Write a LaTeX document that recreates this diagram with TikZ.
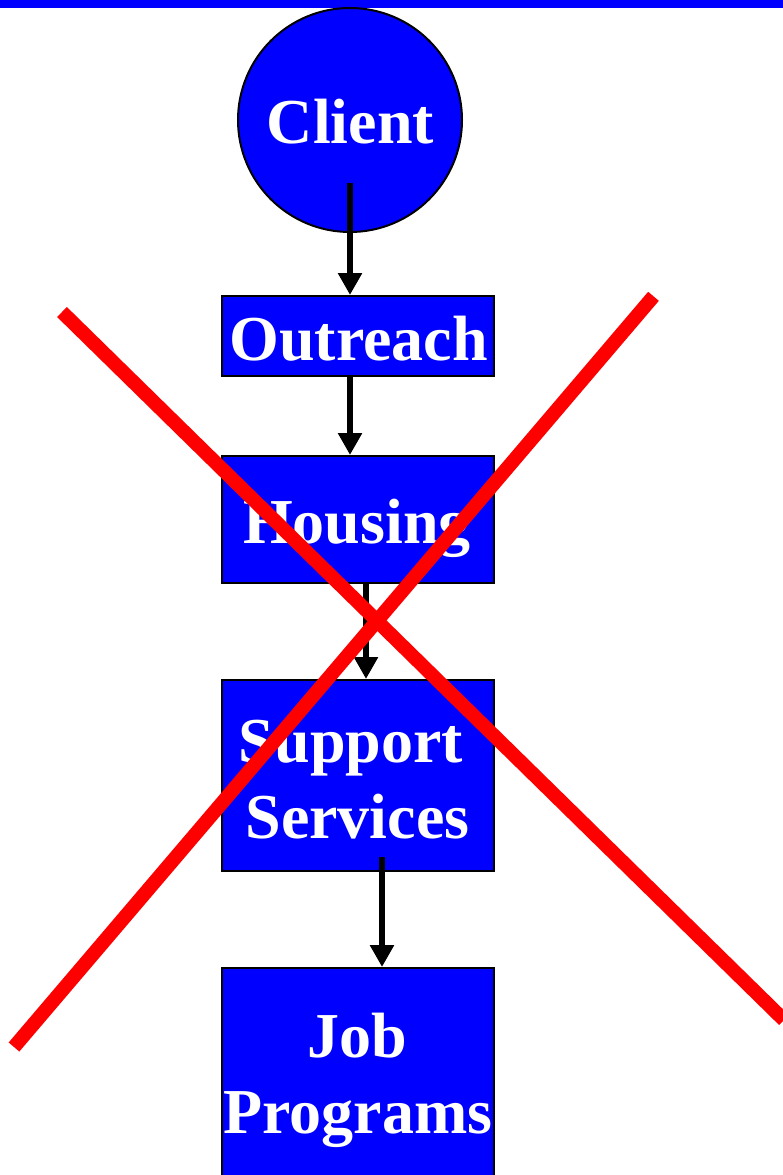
\documentclass[tikz,border=0pt]{standalone}
\usepackage{fontspec}
\setmainfont{Liberation Serif}
\usetikzlibrary{arrows.meta}
\definecolor{boxblue}{RGB}{0,0,255}
\definecolor{crossred}{RGB}{255,0,0}
\begin{document}
\begin{tikzpicture}[x=1pt,y=-1pt,
  stagebox/.style={draw=black,line width=2pt,fill=boxblue,rectangle,
    minimum width=272pt,inner sep=0pt},
  clientdisc/.style={draw=black,line width=2pt,fill=boxblue,circle,
    minimum size=224pt,inner sep=0pt},
  lbl/.style={text=white,anchor=base,inner sep=0pt,
    font=\fontsize{64}{76}\selectfont\bfseries},
  flow/.style={line width=6.5pt,draw=black,-{Triangle[width=23pt,length=22pt]}},
  cross/.style={line width=14pt,draw=crossred}]
\useasboundingbox (0,0) rectangle (783,1175);

% top rule
\fill[boxblue] (0,0) rectangle (783,7.5);

% stages
\node[clientdisc] (client) at (350,120) {};
\node[stagebox,minimum height=80pt]  (outreach) at (358,336) {};
\node[stagebox,minimum height=127pt] (housing)  at (358,519.5) {};
\node[stagebox,minimum height=191pt] (support)  at (358,775.5) {};
\node[stagebox,minimum height=230pt] (job)      at (358,1083) {};

% labels
\node[lbl] (tclient)   at (350.5,143) {Client};
\node[lbl] (toutreach) at (358.5,360) {Outreach};
\node[lbl] (thousing)  at (357,543)   {Housing};
\node[lbl] (tsupport)  at (351,762)   {Support};
\node[lbl] (tservices) at (357.5,838) {Services};
\node[lbl] (tjob)      at (357,1057)  {Job};
\node[lbl] (tprograms) at (358,1133)  {Programs};

% flow arrows
\draw[flow] ([yshift=-63pt]client.center) -- (outreach.north -| client.center);
\draw[flow] ([xshift=-8pt]outreach.south) -- ([xshift=-8pt]housing.north);
\draw[flow] ([xshift=8pt]housing.south) -- ([xshift=8pt]support.north);
\draw[flow] ([xshift=24pt,yshift=15pt]support.south) -- ([xshift=24pt]job.north);

% crossing-out
\coordinate (ca1) at (62,312);
\coordinate (ca2) at (784,1020);
\coordinate (cb1) at (653.5,296.3);
\coordinate (cb2) at (14,1047);
\draw[cross] (ca1) -- (ca2);
\draw[cross] (cb1) -- (cb2);
\end{tikzpicture}
\end{document}
